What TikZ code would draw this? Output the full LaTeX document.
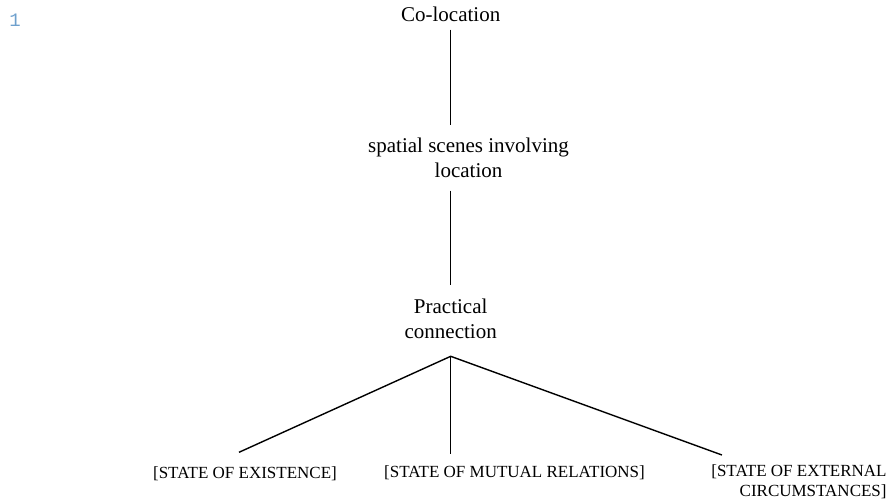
\documentclass[tikz,border=0pt]{standalone}
\usepackage{fontspec}
\setmainfont{Liberation Serif}
\setmonofont{Liberation Mono}
\usetikzlibrary{calc}
\definecolor{linenum}{RGB}{110,160,205}

\begin{document}
\begin{tikzpicture}[x=0.5pt,y=-0.5pt]

    \tikzset{
      term/.style={
        inner sep=0pt,
        align=center,
        font=\fontsize{10.5pt}{12.5pt}\selectfont,
      },
      sense/.style={
        inner sep=0pt,
        font=\fontsize{8.5pt}{10pt}\selectfont,
      },
      link/.style={
        line width=0.7pt,
      },
    }
    \useasboundingbox (0,0) rectangle (891,504);
	\node[anchor=base, text=linenum, inner sep=0pt, font=\ttfamily\fontsize{9.5pt}{11pt}\selectfont] (num) at (15,26) {1};
	\node[term, anchor=base] (coloc) at (450.7,21) {Co-location};
	\node[term, anchor=base] (spatial) at (468.5,177) {spatial scenes involving\\location};
	\node[term, anchor=base] (practical) at (450.7,338) {Practical\\connection};
	\node[sense, anchor=base] (exist) at (245,478) {[STATE OF EXISTENCE]};
	\node[sense, anchor=base] (mutual) at (514.5,477) {[STATE OF MUTUAL RELATIONS]};
	\node[sense, anchor=base east, align=right] (external) at (887,496) {[STATE OF EXTERNAL\\CIRCUMSTANCES]};

	\draw[link, shorten <=4pt, shorten >=5.85pt] (coloc.south) -- (coloc.south |- spatial.north);
	\draw[link, shorten <=6.5pt, shorten >=6.5pt] (practical.north |- spatial.south) -- (practical.north);
	\coordinate (apex) at ($(practical.south)+(0,17.7)$);
	\draw[link] ($(exist.north)+(-6,-13.5)$) -- (apex) -- ($(external.north west)+(11,-8.8)$);
	\draw[link] (apex) -- ($(apex |- mutual.north)+(0,-10.5)$);

\end{tikzpicture}
\end{document}
